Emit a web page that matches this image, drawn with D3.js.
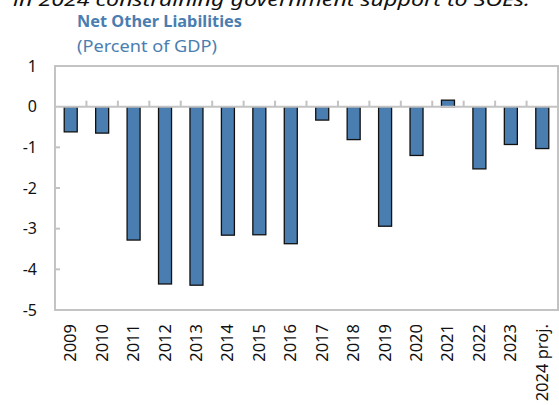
<!DOCTYPE html>
<html>
<head>
<meta charset="utf-8">
<script src="https://cdn.jsdelivr.net/npm/d3@7"></script>
<style>
  body { margin: 0; background: #fff; }
  svg { display: block; font-family: "Noto Sans", "Open Sans", sans-serif; }
</style>
</head>
<body>
<svg id="svg1" width="559" height="405"></svg>
<script>
var years = ['2009','2010','2011','2012','2013','2014','2015','2016','2017','2018','2019','2020','2021','2022','2023','2024 proj.'];
var values = [-0.62,-0.65,-3.28,-4.36,-4.39,-3.16,-3.15,-3.37,-0.33,-0.81,-2.94,-1.20,0.16,-1.53,-0.93,-1.03];
var yTicks = [1,0,-1,-2,-3,-4,-5];

var svg = d3.select('#svg1');
var marginLeft = 55, plotRight = 558, plotTop = 66, plotBottom = 310;
var grey = '#c3c3c3';
var blue = '#4a7eb0';

var x = d3.scaleBand().domain(years).range([marginLeft, plotRight]);
var y = d3.scaleLinear().domain([-5, 1]).range([plotBottom, plotTop]);

// title lines (first one is cut off by the top edge)
svg.append('text')
    .attr('x', 13).attr('y', 6)
    .attr('font-size', 18).attr('font-style', 'italic').attr('fill', '#111')
    .attr('textLength', 517).attr('lengthAdjust', 'spacingAndGlyphs')
    .text('in 2024 constraining government support to SOEs.');
svg.append('text')
    .attr('x', 77).attr('y', 27)
    .attr('font-size', 16).attr('font-weight', 'bold').attr('fill', blue)
    .attr('textLength', 165).attr('lengthAdjust', 'spacingAndGlyphs')
    .text('Net Other Liabilities');
svg.append('text')
    .attr('x', 77).attr('y', 52)
    .attr('font-size', 16.5).attr('fill', blue)
    .attr('textLength', 140).attr('lengthAdjust', 'spacingAndGlyphs')
    .text('(Percent of GDP)');

// frame
svg.append('rect')
    .attr('x', marginLeft).attr('y', plotTop)
    .attr('width', plotRight - marginLeft).attr('height', plotBottom - plotTop)
    .attr('fill', 'none').attr('stroke', grey).attr('stroke-width', 2);

// left axis ticks
svg.append('g').selectAll('line')
    .data(yTicks.filter(function(d) { return d < 0 && d > -5; }))
    .enter().append('line')
    .attr('x1', marginLeft).attr('x2', marginLeft + 5)
    .attr('y1', function(d) { return y(d); }).attr('y2', function(d) { return y(d); })
    .attr('stroke', grey).attr('stroke-width', 2);

// y labels
svg.append('g').selectAll('text')
    .data(yTicks)
    .enter().append('text')
    .attr('x', 37).attr('y', function(d) { return y(d) + 5.5; })
    .attr('text-anchor', 'end').attr('font-size', 16).attr('fill', '#111')
    .text(function(d) { return d; });

// bars
svg.append('g').selectAll('rect')
    .data(values)
    .enter().append('rect')
    .attr('x', function(d, i) { return x(years[i]) + x.bandwidth() / 2 - 6.5; })
    .attr('width', 13)
    .attr('y', function(d) { return y(Math.max(0, d)); })
    .attr('height', function(d) { return Math.abs(y(d) - y(0)); })
    .attr('fill', blue).attr('stroke', '#111').attr('stroke-width', 1.3);

// zero line + category ticks
svg.append('line')
    .attr('x1', marginLeft).attr('x2', plotRight)
    .attr('y1', y(0)).attr('y2', y(0))
    .attr('stroke', grey).attr('stroke-width', 2);
svg.append('g').selectAll('line')
    .data(years.slice(1))
    .enter().append('line')
    .attr('x1', function(d) { return x(d); }).attr('x2', function(d) { return x(d); })
    .attr('y1', y(0)).attr('y2', y(0) - 6)
    .attr('stroke', grey).attr('stroke-width', 2);

// x labels
svg.append('g').selectAll('text')
    .data(years)
    .enter().append('text')
    .attr('transform', function(d) {
        return 'translate(' + (x(d) + x.bandwidth() / 2 + 5.5) + ',324) rotate(-90)';
    })
    .attr('text-anchor', 'end').attr('font-size', 16.5).attr('fill', '#111')
    .text(function(d) { return d; });
</script>
</body>
</html>
